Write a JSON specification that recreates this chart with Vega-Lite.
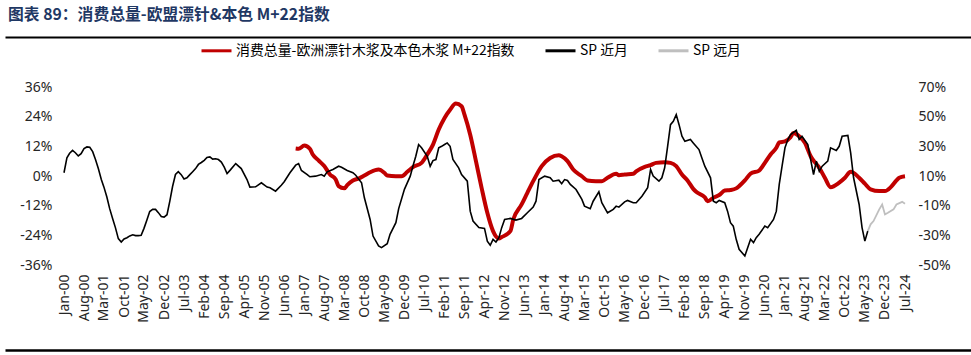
{
  "$schema": "https://vega.github.io/schema/vega-lite/v6.json",
  "width": 841,
  "height": 178,
  "autosize": {"type": "none"},
  "padding": {"left": 64, "top": 87, "right": 66, "bottom": 90},
  "background": "white",
  "title": {
    "text": "图表 89：消费总量-欧盟漂针&本色 M+22指数",
    "anchor": "start",
    "frame": "group",
    "dx": -56,
    "offset": 10,
    "font": "Noto Sans CJK SC",
    "fontSize": 15.8,
    "fontWeight": "bold",
    "color": "#1F3864"
  },
  "datasets": {
    "m22": [
      {"d": "2006-10", "v": 11.1}, {"d": "2006-11", "v": 11.0}, {"d": "2007-01", "v": 12.3}, {"d": "2007-03", "v": 11.0},
      {"d": "2007-04", "v": 8.7}, {"d": "2007-06", "v": 6.3}, {"d": "2007-08", "v": 4.0}, {"d": "2007-10", "v": 0.6},
      {"d": "2007-12", "v": -1.4}, {"d": "2008-01", "v": -4.1}, {"d": "2008-03", "v": -5.0}, {"d": "2008-04", "v": -3.7},
      {"d": "2008-06", "v": -1.8}, {"d": "2008-08", "v": -1.0}, {"d": "2008-10", "v": 0.2}, {"d": "2008-12", "v": 1.5},
      {"d": "2009-03", "v": 2.6}, {"d": "2009-05", "v": 1.3}, {"d": "2009-06", "v": 0.2}, {"d": "2009-09", "v": -0.1},
      {"d": "2009-11", "v": -0.1}, {"d": "2010-01", "v": 1.7}, {"d": "2010-03", "v": 3.6}, {"d": "2010-06", "v": 5.3},
      {"d": "2010-08", "v": 8.7}, {"d": "2010-10", "v": 12.7}, {"d": "2010-12", "v": 18.8}, {"d": "2011-02", "v": 23.5},
      {"d": "2011-04", "v": 26.8}, {"d": "2011-06", "v": 29.3}, {"d": "2011-08", "v": 28.2}, {"d": "2011-09", "v": 24.8},
      {"d": "2011-11", "v": 16.7}, {"d": "2012-01", "v": 6.0}, {"d": "2012-03", "v": -4.8}, {"d": "2012-05", "v": -14.9},
      {"d": "2012-07", "v": -22.3}, {"d": "2012-09", "v": -25.3}, {"d": "2012-10", "v": -24.7}, {"d": "2013-01", "v": -22.3},
      {"d": "2013-02", "v": -17.6}, {"d": "2013-05", "v": -11.5}, {"d": "2013-07", "v": -6.8}, {"d": "2013-09", "v": -2.1},
      {"d": "2013-12", "v": 4.0}, {"d": "2014-03", "v": 7.3}, {"d": "2014-06", "v": 8.4}, {"d": "2014-07", "v": 8.0},
      {"d": "2014-09", "v": 6.0}, {"d": "2014-11", "v": 2.6}, {"d": "2015-02", "v": -0.1}, {"d": "2015-04", "v": -1.8},
      {"d": "2015-07", "v": -2.1}, {"d": "2015-09", "v": -2.1}, {"d": "2015-11", "v": -0.7}, {"d": "2016-02", "v": 0.9},
      {"d": "2016-03", "v": 0.3}, {"d": "2016-05", "v": 0.6}, {"d": "2016-08", "v": 0.9}, {"d": "2016-09", "v": 1.9},
      {"d": "2016-12", "v": 3.7}, {"d": "2017-02", "v": 4.4}, {"d": "2017-04", "v": 5.3}, {"d": "2017-07", "v": 5.6},
      {"d": "2017-09", "v": 5.3}, {"d": "2017-11", "v": 4.0}, {"d": "2018-01", "v": 0.6}, {"d": "2018-03", "v": -1.8},
      {"d": "2018-05", "v": -5.2}, {"d": "2018-06", "v": -6.4}, {"d": "2018-09", "v": -8.6}, {"d": "2018-10", "v": -10.2},
      {"d": "2018-12", "v": -8.8}, {"d": "2019-02", "v": -7.7}, {"d": "2019-04", "v": -5.9}, {"d": "2019-06", "v": -5.7},
      {"d": "2019-08", "v": -5.0}, {"d": "2019-09", "v": -4.1}, {"d": "2019-11", "v": -1.8}, {"d": "2020-01", "v": 1.0},
      {"d": "2020-04", "v": 2.2}, {"d": "2020-06", "v": 5.3}, {"d": "2020-08", "v": 8.7}, {"d": "2020-10", "v": 11.4},
      {"d": "2020-11", "v": 13.6}, {"d": "2021-01", "v": 14.0}, {"d": "2021-03", "v": 15.7}, {"d": "2021-04", "v": 17.4},
      {"d": "2021-06", "v": 16.1}, {"d": "2021-08", "v": 13.4}, {"d": "2021-10", "v": 8.0}, {"d": "2022-01", "v": 3.3},
      {"d": "2022-03", "v": -0.7}, {"d": "2022-05", "v": -4.5}, {"d": "2022-08", "v": -2.7}, {"d": "2022-10", "v": -0.7},
      {"d": "2022-12", "v": 1.7}, {"d": "2023-03", "v": -0.7}, {"d": "2023-05", "v": -3.1}, {"d": "2023-07", "v": -5.4},
      {"d": "2023-10", "v": -6.1}, {"d": "2023-12", "v": -6.1}, {"d": "2024-02", "v": -4.5}, {"d": "2024-04", "v": -1.8},
      {"d": "2024-05", "v": -0.7}, {"d": "2024-07", "v": -0.1}
    ],
    "near": [
      {"d": "2000-01", "v": 12.2}, {"d": "2000-02", "v": 22.2}, {"d": "2000-03", "v": 25.3}, {"d": "2000-04", "v": 27.3},
      {"d": "2000-05", "v": 25.7}, {"d": "2000-06", "v": 23.5}, {"d": "2000-07", "v": 25.0}, {"d": "2000-08", "v": 28.5},
      {"d": "2000-09", "v": 29.6}, {"d": "2000-10", "v": 29.4}, {"d": "2000-11", "v": 26.4}, {"d": "2000-12", "v": 21.1},
      {"d": "2001-01", "v": 14.9}, {"d": "2001-02", "v": 7.7}, {"d": "2001-03", "v": 2.5}, {"d": "2001-04", "v": -4.2},
      {"d": "2001-05", "v": -12.0}, {"d": "2001-06", "v": -18.6}, {"d": "2001-07", "v": -24.8}, {"d": "2001-08", "v": -32.2},
      {"d": "2001-09", "v": -34.5}, {"d": "2001-10", "v": -32.4}, {"d": "2001-11", "v": -31.6}, {"d": "2001-12", "v": -30.4},
      {"d": "2002-01", "v": -29.6}, {"d": "2002-02", "v": -30.2}, {"d": "2002-03", "v": -30.2}, {"d": "2002-04", "v": -30.0},
      {"d": "2002-05", "v": -25.3}, {"d": "2002-06", "v": -19.6}, {"d": "2002-07", "v": -14.0}, {"d": "2002-08", "v": -12.5},
      {"d": "2002-09", "v": -12.5}, {"d": "2002-10", "v": -14.7}, {"d": "2002-11", "v": -17.3}, {"d": "2002-12", "v": -17.7},
      {"d": "2003-01", "v": -16.1}, {"d": "2003-02", "v": -6.6}, {"d": "2003-03", "v": 2.9}, {"d": "2003-04", "v": 11.0},
      {"d": "2003-05", "v": 12.9}, {"d": "2003-06", "v": 10.9}, {"d": "2003-07", "v": 8.0}, {"d": "2003-08", "v": 8.8},
      {"d": "2003-09", "v": 10.9}, {"d": "2003-10", "v": 12.9}, {"d": "2003-11", "v": 15.0}, {"d": "2003-12", "v": 17.8},
      {"d": "2004-01", "v": 19.1}, {"d": "2004-02", "v": 20.6}, {"d": "2004-03", "v": 22.5}, {"d": "2004-04", "v": 22.9},
      {"d": "2004-05", "v": 21.4}, {"d": "2004-06", "v": 21.6}, {"d": "2004-07", "v": 21.1}, {"d": "2004-08", "v": 19.4},
      {"d": "2004-09", "v": 16.0}, {"d": "2004-10", "v": 11.7}, {"d": "2004-11", "v": 13.8}, {"d": "2005-01", "v": 18.4},
      {"d": "2005-03", "v": 15.0}, {"d": "2005-05", "v": 7.6}, {"d": "2005-06", "v": 2.5}, {"d": "2005-08", "v": 2.7},
      {"d": "2005-10", "v": 5.4}, {"d": "2005-12", "v": 2.5}, {"d": "2006-01", "v": 2.1}, {"d": "2006-03", "v": -0.2},
      {"d": "2006-05", "v": 3.8}, {"d": "2006-06", "v": 6.1}, {"d": "2006-08", "v": 12.2}, {"d": "2006-10", "v": 17.3},
      {"d": "2006-11", "v": 18.4}, {"d": "2006-12", "v": 13.7}, {"d": "2007-02", "v": 11.0}, {"d": "2007-03", "v": 9.5},
      {"d": "2007-05", "v": 9.9}, {"d": "2007-07", "v": 11.0}, {"d": "2007-08", "v": 9.9}, {"d": "2007-09", "v": 12.8},
      {"d": "2007-11", "v": 14.4}, {"d": "2008-01", "v": 16.6}, {"d": "2008-02", "v": 15.9}, {"d": "2008-04", "v": 13.7},
      {"d": "2008-06", "v": 12.2}, {"d": "2008-07", "v": 10.5}, {"d": "2008-09", "v": 5.4}, {"d": "2008-10", "v": -4.7},
      {"d": "2008-12", "v": -19.3}, {"d": "2009-01", "v": -30.5}, {"d": "2009-03", "v": -37.2}, {"d": "2009-04", "v": -38.3},
      {"d": "2009-06", "v": -35.6}, {"d": "2009-07", "v": -29.3}, {"d": "2009-09", "v": -21.5}, {"d": "2009-10", "v": -12.0},
      {"d": "2009-12", "v": 1.0}, {"d": "2010-02", "v": 9.9}, {"d": "2010-03", "v": 16.6}, {"d": "2010-04", "v": 23.3},
      {"d": "2010-05", "v": 31.2}, {"d": "2010-06", "v": 29.0}, {"d": "2010-08", "v": 23.3}, {"d": "2010-09", "v": 16.6},
      {"d": "2010-10", "v": 20.4}, {"d": "2010-11", "v": 21.1}, {"d": "2010-12", "v": 29.0}, {"d": "2011-01", "v": 30.0},
      {"d": "2011-02", "v": 31.2}, {"d": "2011-03", "v": 32.3}, {"d": "2011-04", "v": 30.0}, {"d": "2011-05", "v": 21.1},
      {"d": "2011-07", "v": 15.5}, {"d": "2011-08", "v": 11.0}, {"d": "2011-10", "v": 6.5}, {"d": "2011-11", "v": -13.7},
      {"d": "2011-12", "v": -20.4}, {"d": "2012-02", "v": -24.8}, {"d": "2012-04", "v": -25.3}, {"d": "2012-05", "v": -33.9},
      {"d": "2012-06", "v": -36.7}, {"d": "2012-07", "v": -32.7}, {"d": "2012-08", "v": -34.5}, {"d": "2012-09", "v": -31.6},
      {"d": "2012-10", "v": -24.8}, {"d": "2012-11", "v": -19.3}, {"d": "2013-01", "v": -18.6}, {"d": "2013-03", "v": -19.7},
      {"d": "2013-05", "v": -18.6}, {"d": "2013-07", "v": -14.8}, {"d": "2013-09", "v": -11.0}, {"d": "2013-10", "v": -7.0},
      {"d": "2013-11", "v": 7.6}, {"d": "2014-01", "v": 9.9}, {"d": "2014-03", "v": 8.8}, {"d": "2014-04", "v": 6.5},
      {"d": "2014-06", "v": 7.2}, {"d": "2014-07", "v": 4.8}, {"d": "2014-08", "v": 7.6}, {"d": "2014-09", "v": 7.0},
      {"d": "2014-10", "v": 4.3}, {"d": "2014-12", "v": 0.9}, {"d": "2015-02", "v": -5.8}, {"d": "2015-03", "v": -10.3},
      {"d": "2015-05", "v": -12.1}, {"d": "2015-06", "v": -7.0}, {"d": "2015-08", "v": -0.6}, {"d": "2015-09", "v": -8.0},
      {"d": "2015-11", "v": -14.8}, {"d": "2016-01", "v": -12.5}, {"d": "2016-02", "v": -10.3}, {"d": "2016-03", "v": -11.0},
      {"d": "2016-05", "v": -7.4}, {"d": "2016-06", "v": -6.5}, {"d": "2016-08", "v": -8.0}, {"d": "2016-09", "v": -8.0},
      {"d": "2016-11", "v": -3.6}, {"d": "2017-01", "v": 2.1}, {"d": "2017-02", "v": 14.4}, {"d": "2017-03", "v": 9.9},
      {"d": "2017-05", "v": 6.5}, {"d": "2017-06", "v": 8.8}, {"d": "2017-07", "v": 15.5}, {"d": "2017-08", "v": 29.8},
      {"d": "2017-09", "v": 44.6}, {"d": "2017-10", "v": 46.9}, {"d": "2017-11", "v": 51.4}, {"d": "2017-12", "v": 44.6},
      {"d": "2018-01", "v": 36.8}, {"d": "2018-02", "v": 33.4}, {"d": "2018-04", "v": 34.6}, {"d": "2018-05", "v": 32.3},
      {"d": "2018-07", "v": 27.8}, {"d": "2018-08", "v": 22.2}, {"d": "2018-09", "v": 16.6}, {"d": "2018-11", "v": 8.8},
      {"d": "2018-12", "v": -7.0}, {"d": "2019-01", "v": -8.0}, {"d": "2019-02", "v": -6.5}, {"d": "2019-04", "v": -8.0},
      {"d": "2019-05", "v": -13.7}, {"d": "2019-06", "v": -21.5}, {"d": "2019-07", "v": -23.8}, {"d": "2019-08", "v": -32.7},
      {"d": "2019-09", "v": -39.4}, {"d": "2019-11", "v": -43.9}, {"d": "2019-12", "v": -38.3}, {"d": "2020-01", "v": -32.7},
      {"d": "2020-02", "v": -34.9}, {"d": "2020-03", "v": -31.6}, {"d": "2020-04", "v": -29.3}, {"d": "2020-06", "v": -23.8},
      {"d": "2020-07", "v": -24.8}, {"d": "2020-09", "v": -19.3}, {"d": "2020-10", "v": -13.7}, {"d": "2020-11", "v": 4.3},
      {"d": "2020-12", "v": 16.7}, {"d": "2021-01", "v": 29.0}, {"d": "2021-02", "v": 34.6}, {"d": "2021-03", "v": 37.9},
      {"d": "2021-05", "v": 40.8}, {"d": "2021-06", "v": 34.6}, {"d": "2021-07", "v": 36.8}, {"d": "2021-09", "v": 31.2},
      {"d": "2021-10", "v": 21.1}, {"d": "2021-11", "v": 11.0}, {"d": "2021-12", "v": 20.0}, {"d": "2022-01", "v": 13.2},
      {"d": "2022-02", "v": 16.6}, {"d": "2022-04", "v": 20.0}, {"d": "2022-05", "v": 29.0}, {"d": "2022-07", "v": 27.2},
      {"d": "2022-08", "v": 30.0}, {"d": "2022-09", "v": 36.8}, {"d": "2022-11", "v": 37.4}, {"d": "2022-12", "v": 25.6},
      {"d": "2023-01", "v": 8.8}, {"d": "2023-03", "v": -9.2}, {"d": "2023-04", "v": -24.8}, {"d": "2023-05", "v": -33.9},
      {"d": "2023-06", "v": -27.1}
    ],
    "far": [
      {"d": "2023-06", "v": -27.1}, {"d": "2023-07", "v": -22.6}, {"d": "2023-08", "v": -20.4}, {"d": "2023-10", "v": -12.5},
      {"d": "2023-11", "v": -9.2}, {"d": "2023-12", "v": -15.9}, {"d": "2024-01", "v": -14.8}, {"d": "2024-03", "v": -12.5},
      {"d": "2024-04", "v": -9.2}, {"d": "2024-06", "v": -7.4}, {"d": "2024-07", "v": -8.7}
    ]
  },
  "layer": [
    {
      "data": {"name": "m22"},
      "mark": {"type": "line", "strokeWidth": 4, "interpolate": "monotone"},
      "encoding": {
        "x": {
          "field": "d", "type": "temporal",
          "scale": {"type": "utc", "domain": [892447790704, 1780463908704], "range": [-59, 907]},
          "axis": {
            "orient": "bottom", "offset": 85, "title": null, "ticks": false, "grid": false,
            "domain": true, "domainColor": "black", "domainWidth": 2.5,
            "labelAngle": -90, "labelPadding": -76, "labelOverlap": false, "labelFontSize": 14, "labelBound": false,
            "labelExpr": "utcFormat(datum.value, '%b-%y')",
            "values": [
              {"year": 2000, "month": 1, "date": 1, "utc": true}, {"year": 2000, "month": 8, "date": 1, "utc": true},
              {"year": 2001, "month": 3, "date": 1, "utc": true}, {"year": 2001, "month": 10, "date": 1, "utc": true},
              {"year": 2002, "month": 5, "date": 1, "utc": true}, {"year": 2002, "month": 12, "date": 1, "utc": true},
              {"year": 2003, "month": 7, "date": 1, "utc": true}, {"year": 2004, "month": 2, "date": 1, "utc": true},
              {"year": 2004, "month": 9, "date": 1, "utc": true}, {"year": 2005, "month": 4, "date": 1, "utc": true},
              {"year": 2005, "month": 11, "date": 1, "utc": true}, {"year": 2006, "month": 6, "date": 1, "utc": true},
              {"year": 2007, "month": 1, "date": 1, "utc": true}, {"year": 2007, "month": 8, "date": 1, "utc": true},
              {"year": 2008, "month": 3, "date": 1, "utc": true}, {"year": 2008, "month": 10, "date": 1, "utc": true},
              {"year": 2009, "month": 5, "date": 1, "utc": true}, {"year": 2009, "month": 12, "date": 1, "utc": true},
              {"year": 2010, "month": 7, "date": 1, "utc": true}, {"year": 2011, "month": 2, "date": 1, "utc": true},
              {"year": 2011, "month": 9, "date": 1, "utc": true}, {"year": 2012, "month": 4, "date": 1, "utc": true},
              {"year": 2012, "month": 11, "date": 1, "utc": true}, {"year": 2013, "month": 6, "date": 1, "utc": true},
              {"year": 2014, "month": 1, "date": 1, "utc": true}, {"year": 2014, "month": 8, "date": 1, "utc": true},
              {"year": 2015, "month": 3, "date": 1, "utc": true}, {"year": 2015, "month": 10, "date": 1, "utc": true},
              {"year": 2016, "month": 5, "date": 1, "utc": true}, {"year": 2016, "month": 12, "date": 1, "utc": true},
              {"year": 2017, "month": 7, "date": 1, "utc": true}, {"year": 2018, "month": 2, "date": 1, "utc": true},
              {"year": 2018, "month": 9, "date": 1, "utc": true}, {"year": 2019, "month": 4, "date": 1, "utc": true},
              {"year": 2019, "month": 11, "date": 1, "utc": true}, {"year": 2020, "month": 6, "date": 1, "utc": true},
              {"year": 2021, "month": 1, "date": 1, "utc": true}, {"year": 2021, "month": 8, "date": 1, "utc": true},
              {"year": 2022, "month": 3, "date": 1, "utc": true}, {"year": 2022, "month": 10, "date": 1, "utc": true},
              {"year": 2023, "month": 5, "date": 1, "utc": true}, {"year": 2023, "month": 12, "date": 1, "utc": true},
              {"year": 2024, "month": 7, "date": 1, "utc": true}
            ]
          }
        },
        "y": {
          "field": "v", "type": "quantitative",
          "scale": {"domain": [-36, 36], "nice": false, "zero": false},
          "axis": {
            "orient": "left", "title": null, "values": [-36, -24, -12, 0, 12, 24, 36],
            "labelExpr": "datum.value + '%'", "domain": false, "ticks": false, "grid": false,
            "labelPadding": 12, "labelFontSize": 14
          }
        },
        "color": {
          "datum": "消费总量-欧洲漂针木浆及本色木浆 M+22指数", "type": "nominal",
          "scale": {
            "domain": ["消费总量-欧洲漂针木浆及本色木浆 M+22指数", "SP 近月", "SP 远月"],
            "range": ["#C00000", "#000000", "#BFBFBF"]
          },
          "legend": {
            "orient": "none", "legendX": 136, "legendY": -53, "direction": "horizontal",
            "title": null, "symbolType": "stroke", "symbolSize": 900, "symbolStrokeWidth": 3,
            "labelFont": "Noto Sans CJK SC", "labelFontSize": 13.9, "labelColor": "#000000",
            "labelLimit": 400, "columnPadding": 24, "labelOffset": 3, "padding": 0
          }
        }
      }
    },
    {
      "data": {"name": "near"},
      "mark": {"type": "line", "strokeWidth": 1.6},
      "encoding": {
        "x": {"field": "d", "type": "temporal", "axis": null},
        "y": {
          "field": "v", "type": "quantitative",
          "scale": {"domain": [-50, 70], "nice": false, "zero": false},
          "axis": {
            "orient": "right", "title": null, "values": [-50, -30, -10, 10, 30, 50, 70],
            "labelExpr": "datum.value + '%'", "domain": false, "ticks": false, "grid": false,
            "labelPadding": 13, "labelFontSize": 14
          }
        },
        "color": {"datum": "SP 近月", "type": "nominal"}
      }
    },
    {
      "data": {"name": "far"},
      "mark": {"type": "line", "strokeWidth": 1.8},
      "encoding": {
        "x": {
          "field": "d", "type": "temporal",
          "axis": {"orient": "top", "offset": 50, "title": null, "labels": false, "ticks": false, "grid": false,
                   "domain": true, "domainColor": "black", "domainWidth": 2}
        },
        "y": {
          "field": "v", "type": "quantitative",
          "scale": {"domain": [-50, 70], "nice": false, "zero": false},
          "axis": null
        },
        "color": {"datum": "SP 远月", "type": "nominal"}
      }
    }
  ],
  "resolve": {"scale": {"y": "independent"}, "axis": {"x": "independent", "y": "independent"}},
  "config": {
    "view": {"stroke": null},
    "axis": {"labelFont": "Noto Sans", "labelColor": "#262626"},
    "legend": {"labelFont": "Noto Sans CJK SC"}
  }
}
